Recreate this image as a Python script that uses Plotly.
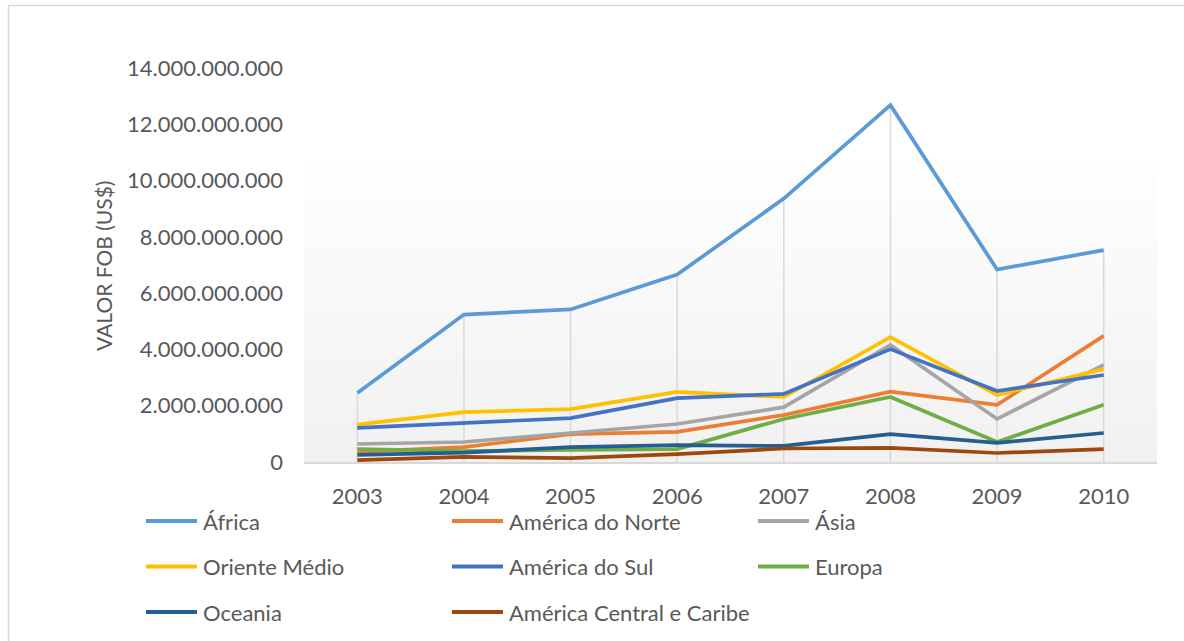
import plotly.graph_objects as go

# Export value (FOB, US$) by destination region, 2003-2010
years = ["2003", "2004", "2005", "2006", "2007", "2008", "2009", "2010"]

africa = [2.45e9, 5.24e9, 5.42e9, 6.66e9, 9.36e9, 12.68e9, 6.84e9, 7.53e9]
america_norte = [0.36e9, 0.53e9, 0.99e9, 1.07e9, 1.67e9, 2.50e9, 2.03e9, 4.48e9]
asia = [0.64e9, 0.71e9, 1.03e9, 1.35e9, 1.95e9, 4.16e9, 1.53e9, 3.45e9]
oriente_medio = [1.33e9, 1.77e9, 1.88e9, 2.49e9, 2.31e9, 4.44e9, 2.38e9, 3.30e9]
america_sul = [1.21e9, 1.39e9, 1.56e9, 2.27e9, 2.42e9, 4.01e9, 2.52e9, 3.09e9]
europa = [0.46e9, 0.39e9, 0.43e9, 0.46e9, 1.53e9, 2.31e9, 0.71e9, 2.03e9]
oceania = [0.25e9, 0.33e9, 0.53e9, 0.60e9, 0.57e9, 0.99e9, 0.68e9, 1.03e9]
america_central = [0.07e9, 0.18e9, 0.14e9, 0.28e9, 0.48e9, 0.50e9, 0.32e9, 0.46e9]

series_names = ["África", "América do Norte", "Ásia", "Oriente Médio",
                "América do Sul", "Europa", "Oceania", "América Central e Caribe"]
series_values = [africa, america_norte, asia, oriente_medio,
                 america_sul, europa, oceania, america_central]
series_colors = ["#5B9BD5", "#ED7D31", "#A5A5A5", "#FFC000",
                 "#4472C4", "#70AD47", "#255E91", "#9E480E"]

FONT = "Lato"
TXT = "#595959"

# Plot area in pixels (1184 x 641 page)
W, H = 1184, 641
L, R, T, B = 304, 1157, 68, 462

fig = go.Figure()

# Drop lines from the highest value of each year down to the axis
drop_x, drop_y = [], []
for i, yr in enumerate(years):
    top = max(vals[i] for vals in series_values)
    drop_x += [yr, yr, None]
    drop_y += [0, top, None]
fig.add_trace(go.Scatter(
    x=drop_x, y=drop_y, mode="lines",
    line=dict(color="#D9D9D9", width=1.5),
    showlegend=False, hoverinfo="skip",
))

for name, vals, color in zip(series_names, series_values, series_colors):
    fig.add_trace(go.Scatter(
        x=years, y=vals, name=name, mode="lines",
        line=dict(color=color, width=3.7),
        showlegend=False,
    ))

def px_x(p):
    return (p - L) / (R - L)

def px_y(p):
    return (B - p) / (B - T)

shapes = []
# Soft vertical gradient in the plot wall (white at top to light grey at bottom)
wall_top = 160
steps = 40
c_top = (254, 254, 254)
c_bot = (241, 241, 241)
for k in range(steps):
    y0p = wall_top + (B - wall_top) * k / steps
    y1p = wall_top + (B - wall_top) * (k + 1) / steps
    t = (k + 0.5) / steps
    c = tuple(round(c_top[j] + (c_bot[j] - c_top[j]) * t) for j in range(3))
    shapes.append(dict(
        type="rect", xref="paper", yref="paper", layer="below",
        x0=0, x1=1, y0=px_y(y1p), y1=px_y(y0p) + 0.001,
        fillcolor="rgb(%d,%d,%d)" % c, line=dict(width=0),
    ))
# Chart outer border
shapes.append(dict(
    type="rect", xref="paper", yref="paper", layer="below",
    x0=px_x(8.5), x1=px_x(1195), y0=px_y(650), y1=px_y(5.5),
    fillcolor="rgba(0,0,0,0)", line=dict(color="#D9D9D9", width=1.5),
))

annotations = [dict(
    text="VALOR FOB (US$)", textangle=-90, showarrow=False,
    xref="paper", yref="paper", x=px_x(103), y=px_y(266),
    xanchor="center", yanchor="middle",
    font=dict(family=FONT, size=21, color=TXT),
)]

# Legend: three columns, line swatch followed by the series name
for i, (name, color) in enumerate(zip(series_names, series_colors)):
    row, col = divmod(i, 3)
    ly = 521 + 45.5 * row
    lx = 146 + 306 * col
    shapes.append(dict(
        type="line", xref="paper", yref="paper",
        x0=px_x(lx), x1=px_x(lx + 51), y0=px_y(ly), y1=px_y(ly),
        line=dict(color=color, width=3.8),
    ))
    annotations.append(dict(
        text=name, showarrow=False, xref="paper", yref="paper",
        x=px_x(lx + 55), y=px_y(ly), xanchor="left", yanchor="middle",
        font=dict(family=FONT, size=22, color=TXT),
    ))

fig.update_layout(
    width=W, height=H,
    margin=dict(l=L, r=W - R, t=T, b=H - B, autoexpand=False),
    paper_bgcolor="white",
    plot_bgcolor="rgba(0,0,0,0)",
    separators=",.",
    font=dict(family=FONT, color=TXT),
    shapes=shapes,
    annotations=annotations,
    showlegend=False,
    xaxis=dict(
        type="category", range=[-0.5, 7.5],
        showgrid=False, zeroline=False,
        showline=True, linecolor="#D9D9D9", linewidth=1.5,
        ticks="", ticklabelstandoff=14,
        tickfont=dict(family=FONT, size=22, color=TXT),
    ),
    yaxis=dict(
        range=[0, 14e9], dtick=2e9, tickformat=",d",
        showgrid=False, zeroline=False, showline=False,
        ticks="", ticklabelstandoff=20,
        tickfont=dict(family=FONT, size=22, color=TXT),
    ),
)

fig.write_html("out.html")
